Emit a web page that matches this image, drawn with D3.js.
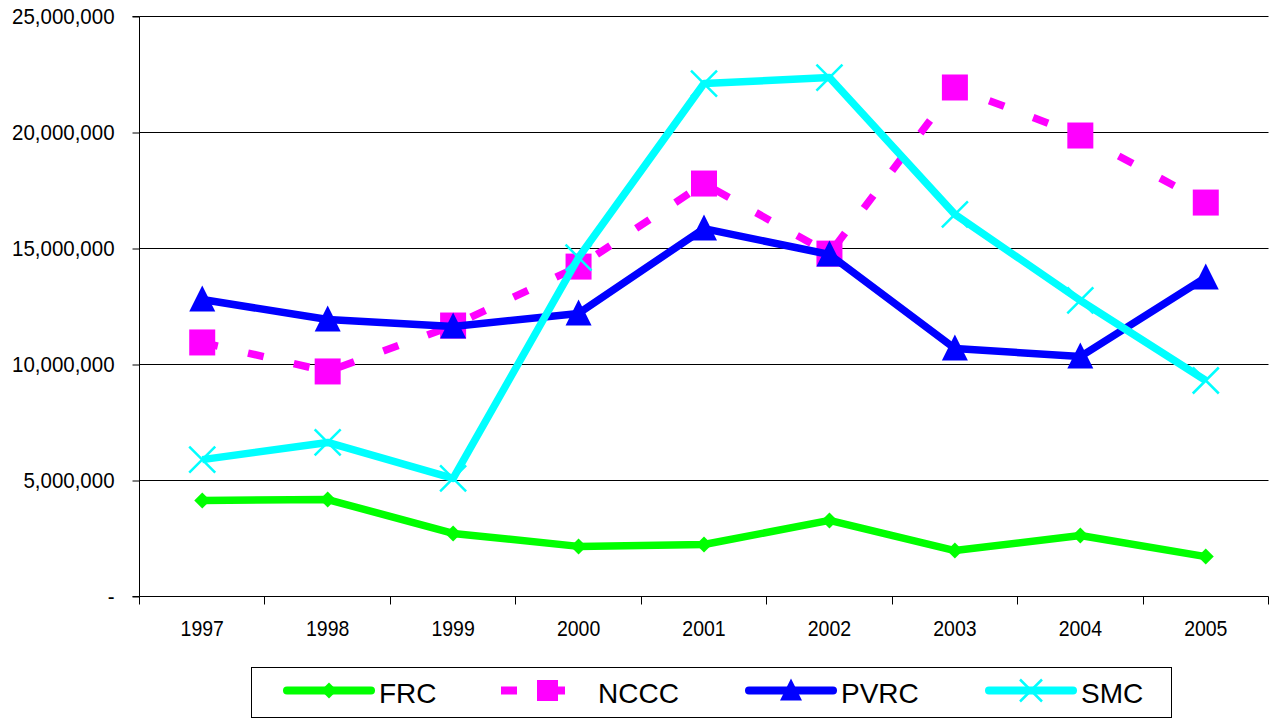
<!DOCTYPE html>
<html>
<head>
<meta charset="utf-8">
<script src="https://cdnjs.cloudflare.com/ajax/libs/d3/7.8.5/d3.min.js"></script>
<style>
body { margin: 0; background: #fff; }
text { font-family: "Liberation Sans", Arial, sans-serif; fill: #000; }
</style>
</head>
<body>
<div id="chart"></div>
<script>
var years = ["1997", "1998", "1999", "2000", "2001", "2002", "2003", "2004", "2005"];
var frc  = [4140000, 4180000, 2720000, 2160000, 2240000, 3280000, 1980000, 2630000, 1720000];
var nccc = [10950000, 9700000, 11680000, 14220000, 17800000, 14780000, 21940000, 19870000, 16980000];
var pvrc = [12800000, 11940000, 11640000, 12200000, 15860000, 14740000, 10690000, 10340000, 13750000];
var smc  = [5900000, 6640000, 5090000, 14610000, 22110000, 22370000, 16470000, 12760000, 9310000];
var yTicks = [0, 5000000, 10000000, 15000000, 20000000, 25000000];

var series = [
	{name: "FRC", values: frc, color: "#00ff00", marker: "diamond", dash: null},
	{name: "NCCC", values: nccc, color: "#ff00ff", marker: "square", dash: "16,31"},
	{name: "PVRC", values: pvrc, color: "#0000ff", marker: "triangle", dash: null},
	{name: "SMC", values: smc, color: "#00ffff", marker: "cross", dash: null}
];

var svgWidth = 1270;
var svgHeight = 719;
var margin = {top: 16, right: 2, bottom: 123, left: 139};
var width = svgWidth - margin.left - margin.right;
var height = svgHeight - margin.top - margin.bottom;

var svg = d3.select("#chart")
	.append("svg")
	.attr("width", svgWidth)
	.attr("height", svgHeight);

var chartGroup = svg.append("g")
	.attr("transform", `translate(${margin.left + 0.5}, ${margin.top + 0.5})`);

var xScale = d3.scaleBand()
	.domain(years)
	.range([0, width]);

var yScale = d3.scaleLinear()
	.domain([0, 25000000])
	.range([height, 0]);

// gridlines
chartGroup.append("g")
	.selectAll("line")
	.data(yTicks.slice(1))
	.enter()
	.append("line")
	.attr("x1", 0)
	.attr("x2", width)
	.attr("y1", d => Math.round(yScale(d)))
	.attr("y2", d => Math.round(yScale(d)))
	.attr("stroke", "#000")
	.attr("stroke-width", 1);

// axis text is a bit narrow in the original, squeeze it horizontally
function squeeze(sel, sx) {
	sel.each(function() {
		var t = d3.select(this);
		t.attr("x", (+t.attr("x") || 0) / sx)
			.attr("transform", `scale(${sx},1)`);
	});
}

// y axis
var leftAxis = d3.axisLeft(yScale)
	.tickValues(yTicks)
	.tickSize(7)
	.tickPadding(18)
	.tickFormat(d => d === 0 ? "-" : d3.format(",")(d));

var yAxisG = chartGroup.append("g").call(leftAxis);
yAxisG.select(".domain").attr("d", `M-7,0H0V${height}H-7`).attr("stroke", "#000");
yAxisG.selectAll("text").style("font-size", "22.5px").style("font-family", "Liberation Sans, Arial, sans-serif");
squeeze(yAxisG.selectAll("text"), 0.91);
yAxisG.selectAll("line").attr("stroke", "#000");

// x axis
var xAxisG = chartGroup.append("g")
	.attr("transform", `translate(0, ${height})`)
	.call(d3.axisBottom(xScale).tickSize(0).tickPadding(24));
xAxisG.select(".domain").attr("d", `M0,0H${width}`).attr("stroke", "#000");
xAxisG.selectAll("text").style("font-size", "22px").style("font-family", "Liberation Sans, Arial, sans-serif");
squeeze(xAxisG.selectAll("text"), 0.885);
xAxisG.append("g")
	.selectAll("line")
	.data(years.concat(["end"]))
	.enter()
	.append("line")
	.attr("x1", (d, i) => Math.round(i * xScale.bandwidth()))
	.attr("x2", (d, i) => Math.round(i * xScale.bandwidth()))
	.attr("y1", 0)
	.attr("y2", 8)
	.attr("stroke", "#000");

// marker drawing
function drawMarker(g, type, color, x, y, size) {
	var h = size || 13;
	if (type === "diamond") {
		g.append("path").attr("d", `M${x},${y-8}L${x+8},${y}L${x},${y+8}L${x-8},${y}Z`).attr("fill", color);
	} else if (type === "square") {
		g.append("rect").attr("x", x - h).attr("y", y - h).attr("width", 2 * h).attr("height", 2 * h).attr("fill", color);
	} else if (type === "triangle") {
		g.append("path").attr("d", `M${x},${y-h-1}L${x+h},${y+h-1}L${x-h},${y+h-1}Z`).attr("fill", color);
	} else if (type === "cross") {
		g.append("path").attr("d", `M${x-h},${y-h}L${x+h},${y+h}M${x-h},${y+h}L${x+h},${y-h}`)
			.attr("stroke", color).attr("stroke-width", 2.5).attr("fill", "none");
	}
}

var line = d3.line()
	.x((d, i) => xScale(years[i]) + xScale.bandwidth() / 2)
	.y(d => yScale(d));

series.forEach(function(s) {
	var g = chartGroup.append("g");
	g.append("path")
		.datum(s.values)
		.attr("d", line)
		.attr("fill", "none")
		.attr("stroke", s.color)
		.attr("stroke-width", 7.5)
		.attr("stroke-linejoin", "round")
		.attr("stroke-dasharray", s.dash);
	s.values.forEach(function(v, i) {
		drawMarker(g, s.marker, s.color, xScale(years[i]) + xScale.bandwidth() / 2, yScale(v));
	});
});

// legend
var legend = svg.append("g");
legend.append("rect")
	.attr("x", 251.5).attr("y", 667.5)
	.attr("width", 920).attr("height", 50)
	.attr("fill", "#fff").attr("stroke", "#000").attr("stroke-width", 1);

var legendX = [283, 501, 745, 985];
var ly = 690.5;
series.forEach(function(s, i) {
	var lx = legendX[i];
	var lg = legend.append("g");
	if (s.dash) {
		lg.append("rect").attr("x", lx).attr("y", ly - 4).attr("width", 16).attr("height", 8).attr("fill", s.color);
		lg.append("rect").attr("x", lx + 55).attr("y", ly - 4).attr("width", 9).attr("height", 8).attr("fill", s.color);
		drawMarker(lg, "square", s.color, lx + 46.5, ly, 10.5);
	} else {
		lg.append("line").attr("x1", lx + 4).attr("x2", lx + 88).attr("y1", ly).attr("y2", ly)
			.attr("stroke", s.color).attr("stroke-width", 8).attr("stroke-linecap", "round");
		drawMarker(lg, s.marker, s.color, lx + 46, ly, 11);
	}
	lg.append("text")
		.attr("x", s.dash ? lx + 97 : lx + 96)
		.attr("y", 703)
		.style("font-size", "28px")
		.text(s.name);
});
</script>
</body>
</html>
